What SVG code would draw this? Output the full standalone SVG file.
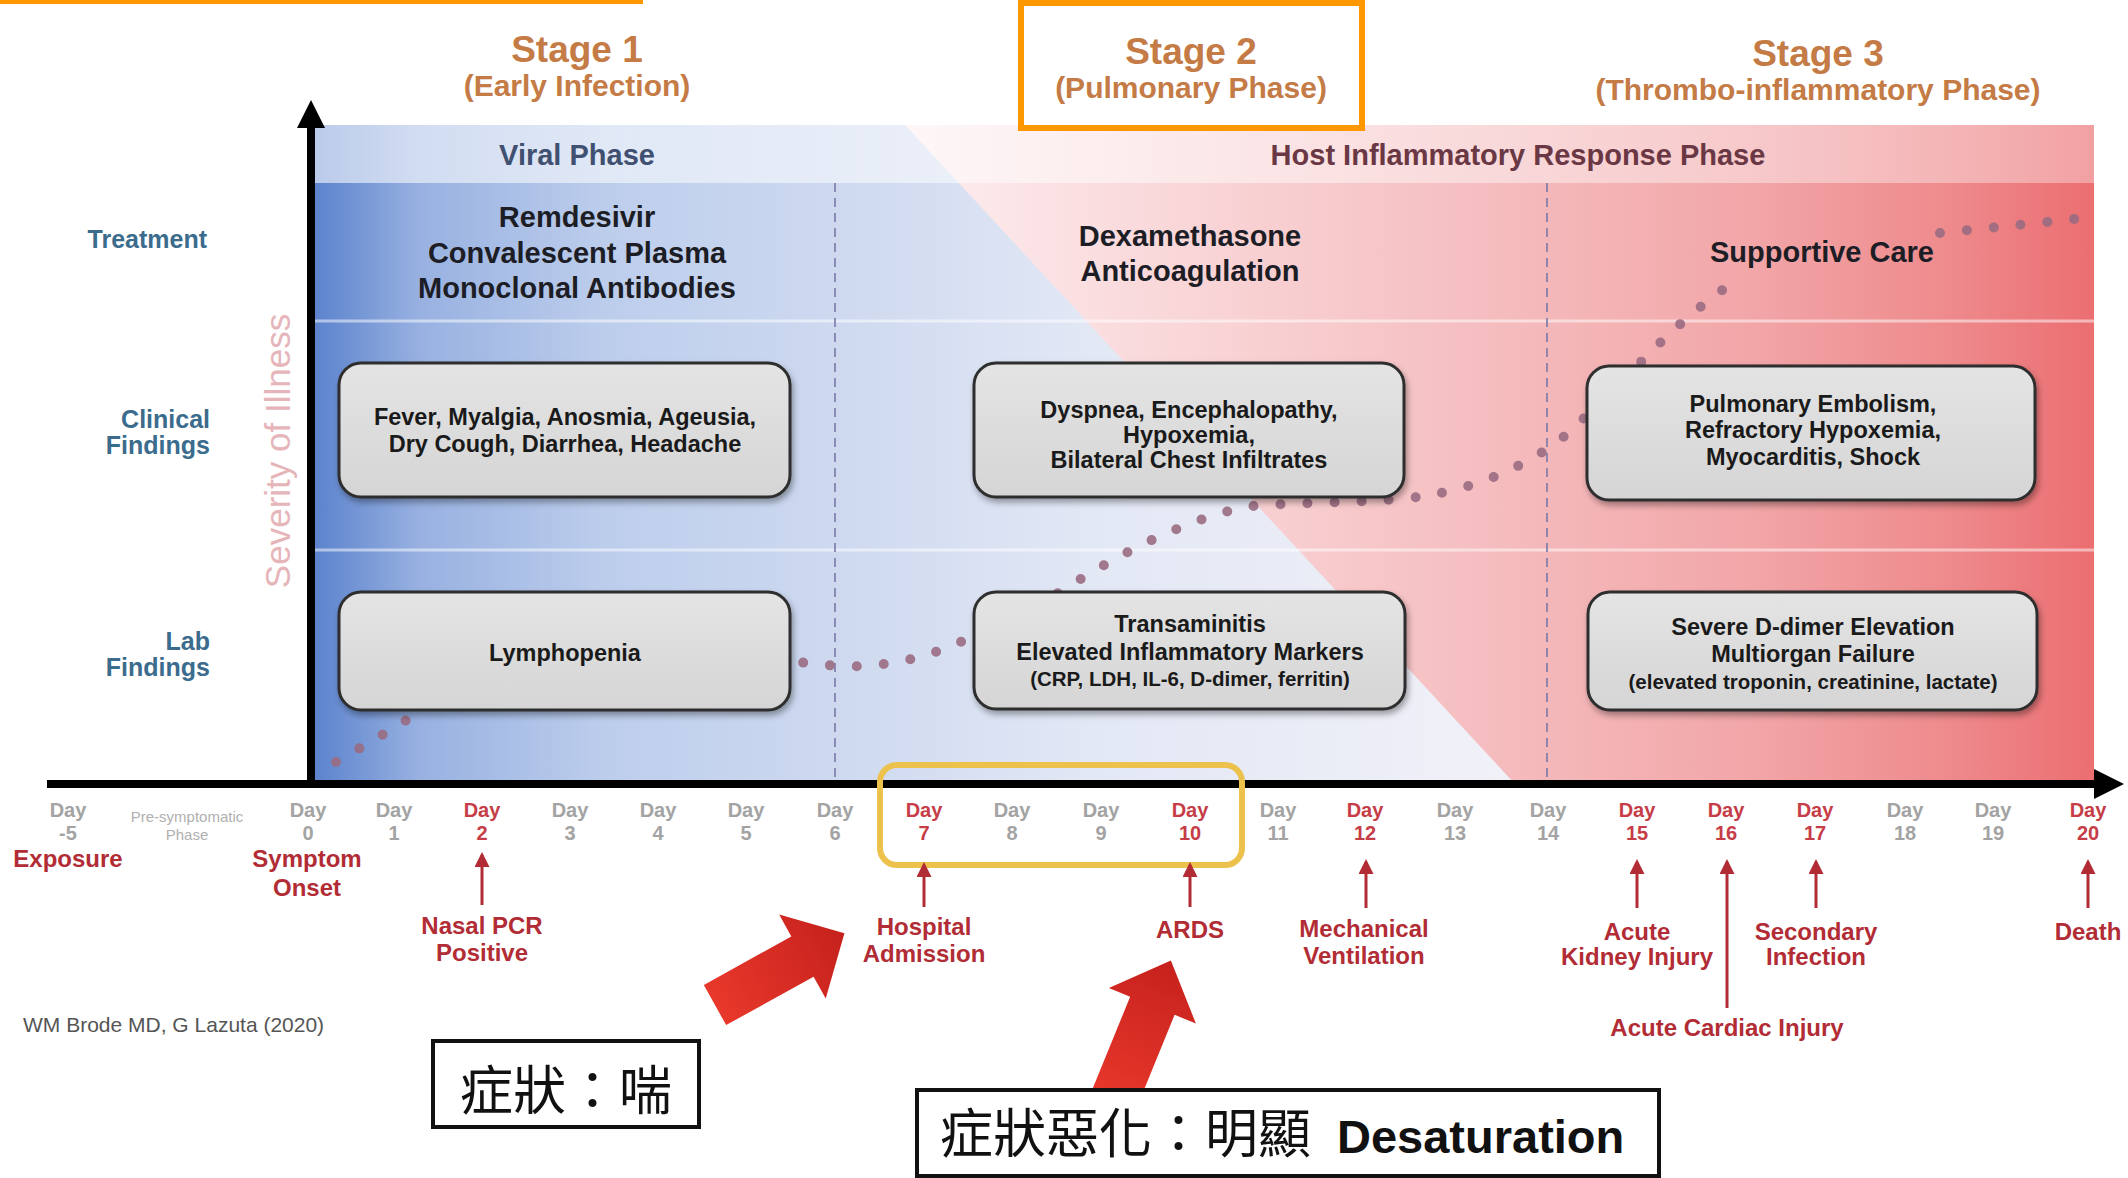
<svg xmlns="http://www.w3.org/2000/svg" width="2128" height="1178" viewBox="0 0 2128 1178">
<defs>
<style>
text{font-family:"Liberation Sans",Arial,sans-serif;}
.stage{font-weight:bold;font-size:37px;fill:#c47b45;text-anchor:middle}
.sub{font-weight:bold;font-size:30px;fill:#c47b45;text-anchor:middle}
.hdr1{font-weight:bold;font-size:29px;fill:#3f5070;text-anchor:middle}
.hdr2{font-weight:bold;font-size:29px;fill:#6a3844;text-anchor:middle}
.tr{font-weight:bold;font-size:29px;fill:#1d1d26;text-anchor:middle}
.row{font-weight:bold;font-size:25px;fill:#3b6c8d;text-anchor:end}
.bx{font-weight:bold;font-size:23.5px;fill:#1a1a1a;text-anchor:middle}
.bxs{font-weight:bold;font-size:20.5px;fill:#1a1a1a;text-anchor:middle}
.day{font-weight:bold;font-size:20px;fill:#a3a3a3;text-anchor:middle}
.dayr{fill:#c63d47}
.pre{font-size:15px;fill:#b0b0b0;text-anchor:middle}
.ev{font-weight:bold;font-size:24px;fill:#b22c35;text-anchor:middle}
.cred{font-size:21px;fill:#555}
.sev{font-size:35px;fill:#e6b5ba;text-anchor:middle}
.cjk{font-family:"Noto Sans CJK TC","Noto Sans CJK SC",sans-serif;font-size:53px;fill:#111}
.box{fill:url(#boxG);stroke:#2e2e2e;stroke-width:3;filter:url(#sh)}
.evl{stroke:#b22c35;stroke-width:3;fill:none;marker-end:url(#ah)}
.dash{stroke:#7a78a8;stroke-width:1.6;stroke-dasharray:9 6;fill:none}
.dots{fill:none;stroke:#9a6b82;stroke-width:10;stroke-linecap:round;stroke-dasharray:0 27;opacity:0.9}
.note{fill:#fff;stroke:#111;stroke-width:4}
.big{fill:url(#redA)}
</style>
<linearGradient id="pinkG" x1="315" y1="0" x2="2094" y2="0" gradientUnits="userSpaceOnUse">
<stop offset="0" stop-color="#fdeef0"/>
<stop offset="0.329" stop-color="#fdeef0"/>
<stop offset="0.497" stop-color="#f9d5d7"/>
<stop offset="0.666" stop-color="#f5bcbe"/>
<stop offset="0.807" stop-color="#f2a6a8"/>
<stop offset="0.919" stop-color="#ee8a8c"/>
<stop offset="1" stop-color="#eb6e71"/>
</linearGradient>
<linearGradient id="blueG" x1="315" y1="0" x2="1515" y2="0" gradientUnits="userSpaceOnUse">
<stop offset="0" stop-color="#5c83cd"/>
<stop offset="0.0875" stop-color="#98b1e1"/>
<stop offset="0.2375" stop-color="#bccdec"/>
<stop offset="0.446" stop-color="#cfdaf0"/>
<stop offset="0.654" stop-color="#e3e8f5"/>
<stop offset="1" stop-color="#f1f1f8"/>
</linearGradient>
<linearGradient id="hdrG" x1="315" y1="0" x2="2094" y2="0" gradientUnits="userSpaceOnUse">
<stop offset="0" stop-color="#fff" stop-opacity="0.58"/>
<stop offset="1" stop-color="#fff" stop-opacity="0.35"/>
</linearGradient>
<linearGradient id="boxG" x1="0" y1="0" x2="0" y2="1">
<stop offset="0" stop-color="#e4e4e4"/>
<stop offset="1" stop-color="#d5d5d5"/>
</linearGradient>
<linearGradient id="redA" x1="0" y1="0" x2="1" y2="0">
<stop offset="0" stop-color="#e8382b"/>
<stop offset="1" stop-color="#c6211d"/>
</linearGradient>
<filter id="sh" x="-5%" y="-10%" width="112%" height="130%">
<feDropShadow dx="2" dy="4" stdDeviation="3" flood-color="#000" flood-opacity="0.35"/>
</filter>
<marker id="ah" viewBox="0 0 10 10" refX="8" refY="5" markerWidth="5" markerHeight="5" orient="auto" markerUnits="strokeWidth">
<path d="M0,0 L10,5 L0,10 z" fill="#b22c35"/>
</marker>
</defs>

<rect width="2128" height="1178" fill="#fff"/>

<g id="background">
<rect x="315" y="125" width="1779" height="659" fill="url(#pinkG)"/>
<polygon points="315,125 905,125 1515,784 315,784" fill="url(#blueG)"/>
<rect x="315" y="125" width="1779" height="58" fill="url(#hdrG)"/>
<line x1="315" y1="321" x2="2094" y2="321" stroke="#fff" stroke-opacity="0.5" stroke-width="3"/>
<line x1="315" y1="550" x2="2094" y2="550" stroke="#fff" stroke-opacity="0.5" stroke-width="3"/>
<line class="dash" x1="835" y1="183" x2="835" y2="780"/>
<line class="dash" x1="1547" y1="183" x2="1547" y2="780"/>
</g>

<g id="highlights">
<rect x="0" y="0" width="643" height="4" fill="#ff9800"/>
<rect x="1021" y="3" width="341" height="125" fill="none" stroke="#ff9800" stroke-width="6"/>
</g>

<g id="stages">
<text class="stage" x="577" y="62">Stage 1</text>
<text class="sub" x="577" y="96">(Early Infection)</text>
<text class="stage" x="1191" y="64">Stage 2</text>
<text class="sub" x="1191" y="98">(Pulmonary Phase)</text>
<text class="stage" x="1818" y="66">Stage 3</text>
<text class="sub" x="1818" y="100">(Thrombo-inflammatory Phase)</text>
</g>

<g id="phase-headers">
<text class="hdr1" x="577" y="165">Viral Phase</text>
<text class="hdr2" x="1518" y="165">Host Inflammatory Response Phase</text>
</g>

<g id="row-labels">
<text class="row" x="207" y="248">Treatment</text>
<text class="row" x="210" y="428">Clinical</text>
<text class="row" x="210" y="454">Findings</text>
<text class="row" x="210" y="650">Lab</text>
<text class="row" x="210" y="676">Findings</text>
<text class="sev" transform="translate(290,451) rotate(-90)">Severity of Illness</text>
</g>

<g id="treatments">
<text class="tr" x="577" y="227">Remdesivir</text>
<text class="tr" x="577" y="263">Convalescent Plasma</text>
<text class="tr" x="577" y="298">Monoclonal Antibodies</text>
<text class="tr" x="1190" y="246">Dexamethasone</text>
<text class="tr" x="1190" y="281">Anticoagulation</text>
<text class="tr" x="1822" y="262">Supportive Care</text>
</g>

<g id="connectors">
<path id="severity-curve" class="dots" d="M336,762 C370,742 395,728 430,705 L760,660 C800,660 830,668 860,666 C900,664 930,656 965,640 L1060,592 C1110,560 1170,525 1244,507 C1300,501 1380,504 1430,495 C1480,487 1540,462 1580,422 L1651,352 Q1690,312 1735,281"/>
<path id="severity-curve-end" class="dots" d="M1940,233 C1990,228 2030,224 2082,218"/>
</g>

<g id="clinical-1">
<rect class="box" x="339" y="363" width="451" height="134" rx="22"/>
<text class="bx" x="565" y="425">Fever, Myalgia, Anosmia, Ageusia,</text>
<text class="bx" x="565" y="452">Dry Cough, Diarrhea, Headache</text>
</g>
<g id="clinical-2">
<rect class="box" x="974" y="363" width="430" height="134" rx="22"/>
<text class="bx" x="1189" y="418">Dyspnea, Encephalopathy,</text>
<text class="bx" x="1189" y="443">Hypoxemia,</text>
<text class="bx" x="1189" y="468">Bilateral Chest Infiltrates</text>
</g>
<g id="clinical-3">
<rect class="box" x="1587" y="366" width="448" height="134" rx="22"/>
<text class="bx" x="1813" y="412">Pulmonary Embolism,</text>
<text class="bx" x="1813" y="438">Refractory Hypoxemia,</text>
<text class="bx" x="1813" y="465">Myocarditis, Shock</text>
</g>
<g id="lab-1">
<rect class="box" x="339" y="592" width="451" height="118" rx="22"/>
<text class="bx" x="565" y="661">Lymphopenia</text>
</g>
<g id="lab-2">
<rect class="box" x="974" y="592" width="431" height="117" rx="22"/>
<text class="bx" x="1190" y="632">Transaminitis</text>
<text class="bx" x="1190" y="660">Elevated Inflammatory Markers</text>
<text class="bxs" x="1190" y="686">(CRP, LDH, IL-6, D-dimer, ferritin)</text>
</g>
<g id="lab-3">
<rect class="box" x="1588" y="592" width="449" height="118" rx="22"/>
<text class="bx" x="1813" y="635">Severe D-dimer Elevation</text>
<text class="bx" x="1813" y="662">Multiorgan Failure</text>
<text class="bxs" x="1813" y="689">(elevated troponin, creatinine, lactate)</text>
</g>

<g id="axes">
<line x1="311" y1="788" x2="311" y2="125" stroke="#000" stroke-width="8"/>
<polygon points="297,128 311,100 325,128" fill="#000"/>
<line x1="47" y1="784" x2="2098" y2="784" stroke="#000" stroke-width="8"/>
<polygon points="2094,769 2124,784 2094,799" fill="#000"/>
</g>

<g id="day-ticks">
<text class="day" x="68" y="817">Day</text><text class="day" x="68" y="840">-5</text>
<text class="pre" x="187" y="822">Pre-symptomatic</text><text class="pre" x="187" y="840">Phase</text>
<text class="day" x="308" y="817">Day</text><text class="day" x="308" y="840">0</text>
<text class="day" x="394" y="817">Day</text><text class="day" x="394" y="840">1</text>
<text class="day dayr" x="482" y="817">Day</text><text class="day dayr" x="482" y="840">2</text>
<text class="day" x="570" y="817">Day</text><text class="day" x="570" y="840">3</text>
<text class="day" x="658" y="817">Day</text><text class="day" x="658" y="840">4</text>
<text class="day" x="746" y="817">Day</text><text class="day" x="746" y="840">5</text>
<text class="day" x="835" y="817">Day</text><text class="day" x="835" y="840">6</text>
<text class="day dayr" x="924" y="817">Day</text><text class="day dayr" x="924" y="840">7</text>
<text class="day" x="1012" y="817">Day</text><text class="day" x="1012" y="840">8</text>
<text class="day" x="1101" y="817">Day</text><text class="day" x="1101" y="840">9</text>
<text class="day dayr" x="1190" y="817">Day</text><text class="day dayr" x="1190" y="840">10</text>
<text class="day" x="1278" y="817">Day</text><text class="day" x="1278" y="840">11</text>
<text class="day dayr" x="1365" y="817">Day</text><text class="day dayr" x="1365" y="840">12</text>
<text class="day" x="1455" y="817">Day</text><text class="day" x="1455" y="840">13</text>
<text class="day" x="1548" y="817">Day</text><text class="day" x="1548" y="840">14</text>
<text class="day dayr" x="1637" y="817">Day</text><text class="day dayr" x="1637" y="840">15</text>
<text class="day dayr" x="1726" y="817">Day</text><text class="day dayr" x="1726" y="840">16</text>
<text class="day dayr" x="1815" y="817">Day</text><text class="day dayr" x="1815" y="840">17</text>
<text class="day" x="1905" y="817">Day</text><text class="day" x="1905" y="840">18</text>
<text class="day" x="1993" y="817">Day</text><text class="day" x="1993" y="840">19</text>
<text class="day dayr" x="2088" y="817">Day</text><text class="day dayr" x="2088" y="840">20</text>
</g>

<g id="day7-10-highlight">
<rect x="880" y="765" width="362" height="100" rx="17" fill="none" stroke="#ecc24c" stroke-width="6"/>
</g>

<g id="event-arrows">
<line class="evl" x1="482" y1="905" x2="482" y2="855"/>
<line class="evl" x1="924" y1="907" x2="924" y2="865"/>
<line class="evl" x1="1190" y1="907" x2="1190" y2="865"/>
<line class="evl" x1="1366" y1="908" x2="1366" y2="862"/>
<line class="evl" x1="1637" y1="908" x2="1637" y2="862"/>
<line class="evl" x1="1727" y1="1008" x2="1727" y2="862"/>
<line class="evl" x1="1816" y1="908" x2="1816" y2="862"/>
<line class="evl" x1="2088" y1="908" x2="2088" y2="862"/>
</g>

<g id="events">
<text class="ev" x="68" y="867">Exposure</text>
<text class="ev" x="307" y="867">Symptom</text>
<text class="ev" x="307" y="896">Onset</text>
<text class="ev" x="482" y="934">Nasal PCR</text>
<text class="ev" x="482" y="961">Positive</text>
<text class="ev" x="924" y="935">Hospital</text>
<text class="ev" x="924" y="962">Admission</text>
<text class="ev" x="1190" y="938">ARDS</text>
<text class="ev" x="1364" y="937">Mechanical</text>
<text class="ev" x="1364" y="964">Ventilation</text>
<text class="ev" x="1637" y="940">Acute</text>
<text class="ev" x="1637" y="965">Kidney Injury</text>
<text class="ev" x="1816" y="940">Secondary</text>
<text class="ev" x="1816" y="965">Infection</text>
<text class="ev" x="2088" y="940">Death</text>
<text class="ev" x="1727" y="1036">Acute Cardiac Injury</text>
</g>

<g id="credit">
<text class="cred" x="23" y="1032">WM Brode MD, G Lazuta (2020)</text>
</g>

<g id="big-arrows">
<polygon class="big" transform="translate(715,1005) rotate(-29)" points="0,-23 100,-23 100,-48 148,0 100,48 100,23 0,23"/>
<polygon class="big" transform="translate(1118,1090) rotate(-67.8)" points="-15,-24 91,-24 91,-47 140,0 91,47 91,24 -15,24"/>
</g>

<g id="note-1">
<rect class="note" x="433" y="1041" width="266" height="86"/>
<text class="cjk" x="566" y="1110" text-anchor="middle">症狀：喘</text>
</g>
<g id="note-2">
<rect class="note" x="917" y="1090" width="742" height="86"/>
<text class="cjk" x="940" y="1153">症狀惡化：明顯<tspan x="1337" style="font-family:'Liberation Sans',Arial,sans-serif;font-weight:bold;font-size:47px">Desaturation</tspan></text>
</g>
</svg>
